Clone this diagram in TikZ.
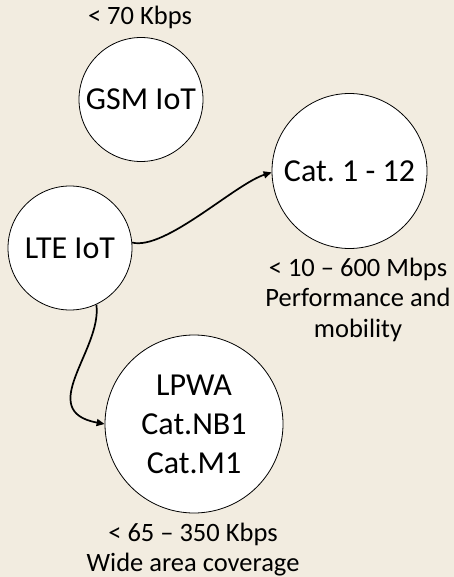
\documentclass[tikz,border=0pt]{standalone}
\usepackage{fontspec}
\setmainfont{Carlito}
\usetikzlibrary{arrows.meta}
\definecolor{paper}{RGB}{242,236,224}
\frenchspacing
\begin{document}
\begin{tikzpicture}[x=1pt,y=-1pt,
  bubble/.style={circle,draw=black,line width=0.8pt,fill=white,inner sep=0pt,
    align=center,font=\fontsize{32}{39}\selectfont},
  caption/.style={align=center,inner sep=0pt,font=\fontsize{26.5}{30.5}\selectfont},
  link/.style={line width=1.7pt,-{Triangle[length=8pt,width=7pt]}}]
\fill[paper] (0,0) rectangle (454,577);
\useasboundingbox (0,0) rectangle (454,577);

% technology bubbles
\node[bubble,minimum size=124pt] (gsm)  at (141,99.5) {GSM IoT};
\node[bubble,minimum size=155pt] (cat)  at (349.5,171) {Cat. 1 - 12};
\node[bubble,minimum size=124pt] (lte)  at (70,248)   {LTE IoT};
\node[bubble,minimum size=178pt] (lpwa) at (194,424)  {LPWA\\Cat.NB1\\Cat.M1};

% data rates and use cases (anchored on the baseline of the last line)
\node[caption,anchor=base] (gsmrate)  at (140,25)  {< 70 Kbps};
\node[caption,anchor=base] (catrate)  at (358,337) {< 10 – 600 Mbps\\Performance and\\mobility};
\node[caption,anchor=base] (lpwarate) at (193,571.5) {< 65 – 350 Kbps\\Wide area coverage};

% evolution links
\draw[link] (lte.5)   .. controls +(33,8) and +(-37,12) .. (cat.181);
\draw[link] (lte.-65) .. controls +(6,45) and +(-70,-13) .. (lpwa.180);
\end{tikzpicture}
\end{document}
